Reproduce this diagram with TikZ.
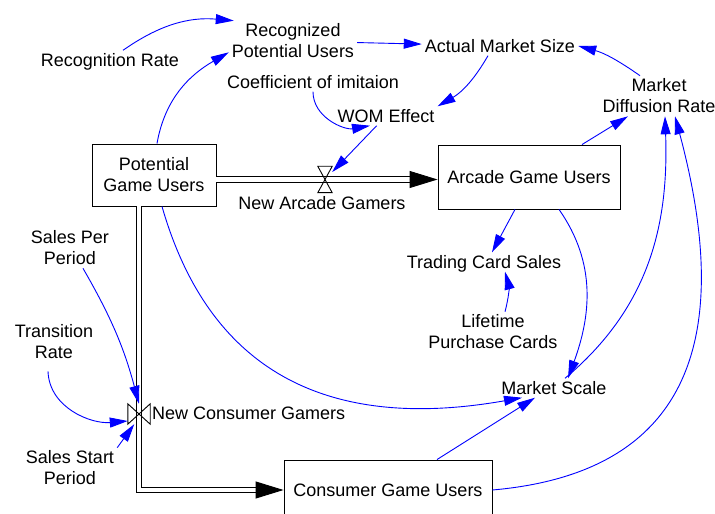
\documentclass[tikz,border=0pt]{standalone}
\usepackage{fontspec}
\setmainfont{Liberation Sans}
\usetikzlibrary{arrows.meta}

\begin{document}
\begin{tikzpicture}[x=1pt,y=1pt,
    every node/.style={font=\fontsize{18}{21}\selectfont, inner sep=3pt, align=center},
    oneline/.style={text height=13pt, text depth=0pt},
    stock/.style={draw, line width=0.9pt, minimum height=62pt},
    link/.style={draw=blue, line width=0.9pt, -{Triangle[length=18pt,width=10pt]}},
    pipe/.style={draw, double, double distance=4.5pt, line width=0.9pt},
    pipetip/.style={line width=0.9pt, -{Triangle[length=28pt,width=17pt]}},
    valve/.style={draw, line width=0.9pt},
    valvebox/.style={inner sep=0pt}]

  \def\tl{28pt}   % pipe tip length

  \useasboundingbox (0,0) rectangle (715,514);

  % stocks
  \node[stock, minimum width=124pt] (potUsers) at (154,339) {Potential\\Game Users};
  \node[stock, oneline, minimum width=182pt, minimum height=64pt] (arcUsers) at (529,337) {Arcade Game Users};
  \node[stock, oneline, minimum width=208pt, minimum height=60pt] (conUsers) at (388,24) {Consumer Game Users};

  % valves
  \node[valvebox, minimum width=14pt, minimum height=26pt] (vArc) at (325,334.5) {};
  \node[valvebox, minimum width=22pt, minimum height=20pt] (vCon) at (139,100) {};
  \coordinate (arcIn) at (arcUsers.west |- vArc);
  \coordinate (conIn) at (conUsers.west);

  % pipes
  \draw[pipe, shorten >=27pt] (potUsers.east |- vArc) -- (arcIn);
  \draw[pipetip] ([xshift=-\tl]arcIn) -- (arcIn);
  \draw[pipe, shorten >=27pt] (potUsers.south -| vCon) -- (vCon |- conUsers) -- (conIn);
  \draw[pipetip] ([xshift=-\tl]conIn) -- (conIn);
  \draw[valve] (vArc.north west) -- (vArc.north east) -- (vArc.south west) -- (vArc.south east) -- cycle;
  \draw[valve] (vCon.north west) -- (vCon.south east) -- (vCon.north east) -- (vCon.south west) -- cycle;

  % flow labels
  \node[oneline] (newArc) at (322,311) {New Arcade Gamers};
  \node[oneline, anchor=west] (newCon) at (149,101) {New Consumer Gamers};

  % auxiliaries
  \node[oneline] (recRate) at (110,454) {Recognition Rate};
  \node (recPot) at (293,473) {Recognized\\Potential Users};
  \node[oneline] (actSize) at (500,468) {Actual Market Size};
  \node[oneline] (coef) at (313,432) {Coefficient of imitaion};
  \node[oneline] (wom) at (386,398) {WOM Effect};
  \node (diffRate) at (659,418) {Market\\Diffusion Rate};
  \node[oneline] (cardSales) at (484,252) {Trading Card Sales};
  \node (lifeCards) at (493,182) {Lifetime\\Purchase Cards};
  \node[oneline] (mktScale) at (554,126) {Market Scale};
  \node (salesPer) at (70,266) {Sales Per\\Period};
  \node (transRate) at (54,172) {Transition\\Rate};
  \node (salesStart) at (70,46) {Sales Start\\Period};

  % links
  \draw[link] ([xshift=13pt]recRate.north) to[out=35,in=175] ([xshift=5pt]recPot.north west);
  \draw[link] ([xshift=3pt]potUsers.north) to[out=80,in=210] (recPot.190);
  \draw[link] (recPot) -- (actSize);
  \draw[link] ([xshift=-12pt]actSize.south) to[out=240,in=30] (wom.north east);
  \draw[link] ([xshift=-19pt]diffRate.north) to[out=145,in=345] (actSize.east);
  \draw[link] (coef.south) to[out=-90,in=190] ([xshift=-16pt]wom.south);
  \draw[link] (wom) -- (vArc);
  \draw[link] ([xshift=53pt]arcUsers.north) -- ([xshift=-31pt]diffRate.south);
  \draw[link] ([xshift=-14pt]arcUsers.south) -- ([xshift=8pt]cardSales.north);
  \draw[link] ([xshift=12pt]lifeCards.north) to[bend right=15] ([xshift=21pt]cardSales.south);
  \draw[link] ([xshift=30pt]arcUsers.south) to[out=-55,in=70] ([xshift=14pt]mktScale.north);
  \draw[link] ([xshift=11pt]mktScale.north) to[out=40,in=-88] ([xshift=6pt]diffRate.south);
  \draw[link] (conUsers.east) to[out=5,in=-75,looseness=1.3] ([xshift=16pt]diffRate.south);
  \draw[link] ([xshift=49pt]conUsers.north) -- ([xshift=-19pt]mktScale.south);
  \draw[link] ([xshift=8pt]potUsers.south) to[out=-74,in=190,looseness=1.15] ([xshift=-32pt]mktScale.south);
  \draw[link] ([xshift=13pt]salesPer.south) to[out=-60,in=105] (vCon.north);
  \draw[link] ([xshift=-6pt,yshift=-9pt]transRate.south) to[out=-88,in=185] (vCon.212);
  \draw[link] (salesStart.north east) -- (vCon.-115);

\end{tikzpicture}
\end{document}
